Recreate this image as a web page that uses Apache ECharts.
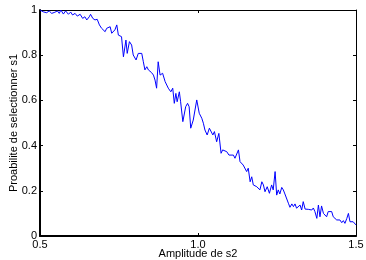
<!DOCTYPE html>
<html>
<head>
<meta charset="utf-8">
<script src="https://cdn.jsdelivr.net/npm/echarts@6/dist/echarts.min.js"></script>
<style>
  html, body { margin: 0; padding: 0; background: #fff; }
  #chart { width: 366px; height: 260px; }
</style>
</head>
<body>
<div id="chart"></div>
<script>
// amplitude de s2 (x) et probabilite (y)
const xs = [
  0.500, 0.510, 0.521, 0.529, 0.537, 0.547, 0.555, 0.561, 0.566, 0.574,
  0.581, 0.590, 0.597, 0.603, 0.611, 0.618, 0.627, 0.635, 0.642, 0.648,
  0.656, 0.660, 0.667, 0.674, 0.681, 0.688, 0.695, 0.700, 0.706, 0.711,
  0.716, 0.722, 0.727, 0.732, 0.737, 0.743, 0.748, 0.753, 0.758, 0.764,
  0.772, 0.776, 0.783, 0.790, 0.795, 0.804, 0.811, 0.816, 0.822, 0.827,
  0.832, 0.838, 0.843, 0.848, 0.853, 0.859, 0.864, 0.869, 0.874, 0.880,
  0.888, 0.896, 0.901, 0.906, 0.914, 0.920, 0.925, 0.930, 0.934, 0.941,
  0.945, 0.952, 0.956, 0.961, 0.967, 0.972, 0.977, 0.985, 0.996, 1.004,
  1.012, 1.017, 1.022, 1.029, 1.036, 1.041, 1.047, 1.052, 1.059, 1.066,
  1.073, 1.078, 1.083, 1.091, 1.098, 1.104, 1.112, 1.117, 1.122, 1.128,
  1.133, 1.138, 1.143, 1.149, 1.154, 1.159, 1.165, 1.170, 1.175, 1.180,
  1.186, 1.191, 1.196, 1.202, 1.207, 1.212, 1.219, 1.226, 1.233, 1.238,
  1.244, 1.249, 1.254, 1.259, 1.265, 1.270, 1.275, 1.281, 1.286, 1.291,
  1.297, 1.302, 1.307, 1.312, 1.317, 1.323, 1.328, 1.333, 1.339, 1.344,
  1.349, 1.354, 1.360, 1.365, 1.370, 1.376, 1.381, 1.386, 1.391, 1.397,
  1.402, 1.407, 1.412, 1.418, 1.423, 1.428, 1.434, 1.439, 1.444, 1.449,
  1.455, 1.460, 1.465, 1.471, 1.476, 1.481, 1.486, 1.491, 1.497, 1.500
];
const ys = [
  1.000, 0.992, 0.988, 0.996, 0.985, 0.990, 0.996, 0.985, 1.000, 0.982,
  0.996, 0.981, 0.991, 0.978, 0.985, 0.973, 0.981, 0.963, 0.970, 0.956,
  0.970, 0.981, 0.963, 0.956, 0.959, 0.934, 0.919, 0.926, 0.904, 0.919,
  0.912, 0.926, 0.897, 0.904, 0.912, 0.934, 0.889, 0.882, 0.882, 0.793,
  0.867, 0.808, 0.860, 0.845, 0.801, 0.779, 0.808, 0.815, 0.808, 0.771,
  0.735, 0.749, 0.735, 0.742, 0.723, 0.712, 0.690, 0.654, 0.771, 0.712,
  0.720, 0.683, 0.676, 0.654, 0.638, 0.654, 0.587, 0.631, 0.594, 0.638,
  0.594, 0.506, 0.506, 0.572, 0.587, 0.572, 0.477, 0.513, 0.602, 0.543,
  0.521, 0.499, 0.469, 0.447, 0.477, 0.484, 0.447, 0.462, 0.417, 0.454,
  0.366, 0.381, 0.388, 0.373, 0.358, 0.351, 0.358, 0.344, 0.336, 0.381,
  0.329, 0.336, 0.314, 0.322, 0.285, 0.300, 0.240, 0.262, 0.226, 0.226,
  0.218, 0.211, 0.204, 0.240, 0.226, 0.196, 0.218, 0.189, 0.226, 0.204,
  0.285, 0.181, 0.204, 0.186, 0.215, 0.204, 0.186, 0.181, 0.145, 0.127,
  0.142, 0.130, 0.142, 0.123, 0.130, 0.137, 0.115, 0.152, 0.119, 0.111,
  0.118, 0.123, 0.115, 0.124, 0.108, 0.078, 0.137, 0.085, 0.133, 0.100,
  0.108, 0.085, 0.108, 0.100, 0.108, 0.085, 0.078, 0.071, 0.063, 0.071,
  0.059, 0.068, 0.056, 0.078, 0.100, 0.063, 0.056, 0.063, 0.056, 0.049
];
const xTicks = [0.5, 1.0, 1.5];
const yTicks = [0, 0.2, 0.4, 0.6, 0.8, 1];

const font = 'Liberation Sans, Arial, sans-serif';
const chart = echarts.init(document.getElementById('chart'));

const boxAxis = (w) => ({
  axisLine: { show: true, onZero: false, lineStyle: { color: '#000', width: w } },
  axisTick: { show: true, inside: true, length: 3, lineStyle: { color: '#000' } },
  splitLine: { show: false }
});

chart.setOption({
  animation: false,
  backgroundColor: '#fff',
  grid: { left: 40, right: 10, top: 10, bottom: 24, containLabel: false, outerBoundsMode: 'none' },
  xAxis: [
    Object.assign({
      type: 'value', position: 'bottom',
      min: xTicks[0], max: xTicks[xTicks.length - 1], interval: 0.5,
      name: 'Amplitude de s2', nameLocation: 'middle', nameGap: 12, nameMoveOverlap: false,
      nameTextStyle: { color: '#000', fontFamily: font, fontSize: 11 },
      axisLabel: { color: '#000', fontFamily: font, fontSize: 11, margin: 3,
        formatter: (v) => v.toFixed(1) }
    }, boxAxis(2)),
    Object.assign({
      type: 'value', position: 'top',
      min: xTicks[0], max: xTicks[xTicks.length - 1], interval: 0.5,
      axisLabel: { show: false }
    }, boxAxis(1))
  ],
  yAxis: [
    Object.assign({
      type: 'value', position: 'left',
      min: yTicks[0], max: yTicks[yTicks.length - 1], interval: 0.2,
      name: 'Proabilite de selectionner s1', nameLocation: 'middle', nameGap: 21, nameMoveOverlap: false,
      nameTextStyle: { color: '#000', fontFamily: font, fontSize: 11 },
      axisLabel: { color: '#000', fontFamily: font, fontSize: 11, margin: 3 }
    }, boxAxis(2)),
    Object.assign({
      type: 'value', position: 'right',
      min: yTicks[0], max: yTicks[yTicks.length - 1], interval: 0.2,
      axisLabel: { show: false }
    }, boxAxis(1))
  ],
  series: [{
    type: 'line',
    data: xs.map((x, i) => [x, ys[i]]),
    showSymbol: false,
    lineStyle: { color: '#0000ff', width: 1 },
    xAxisIndex: 0, yAxisIndex: 0
  }]
});
</script>
</body>
</html>
